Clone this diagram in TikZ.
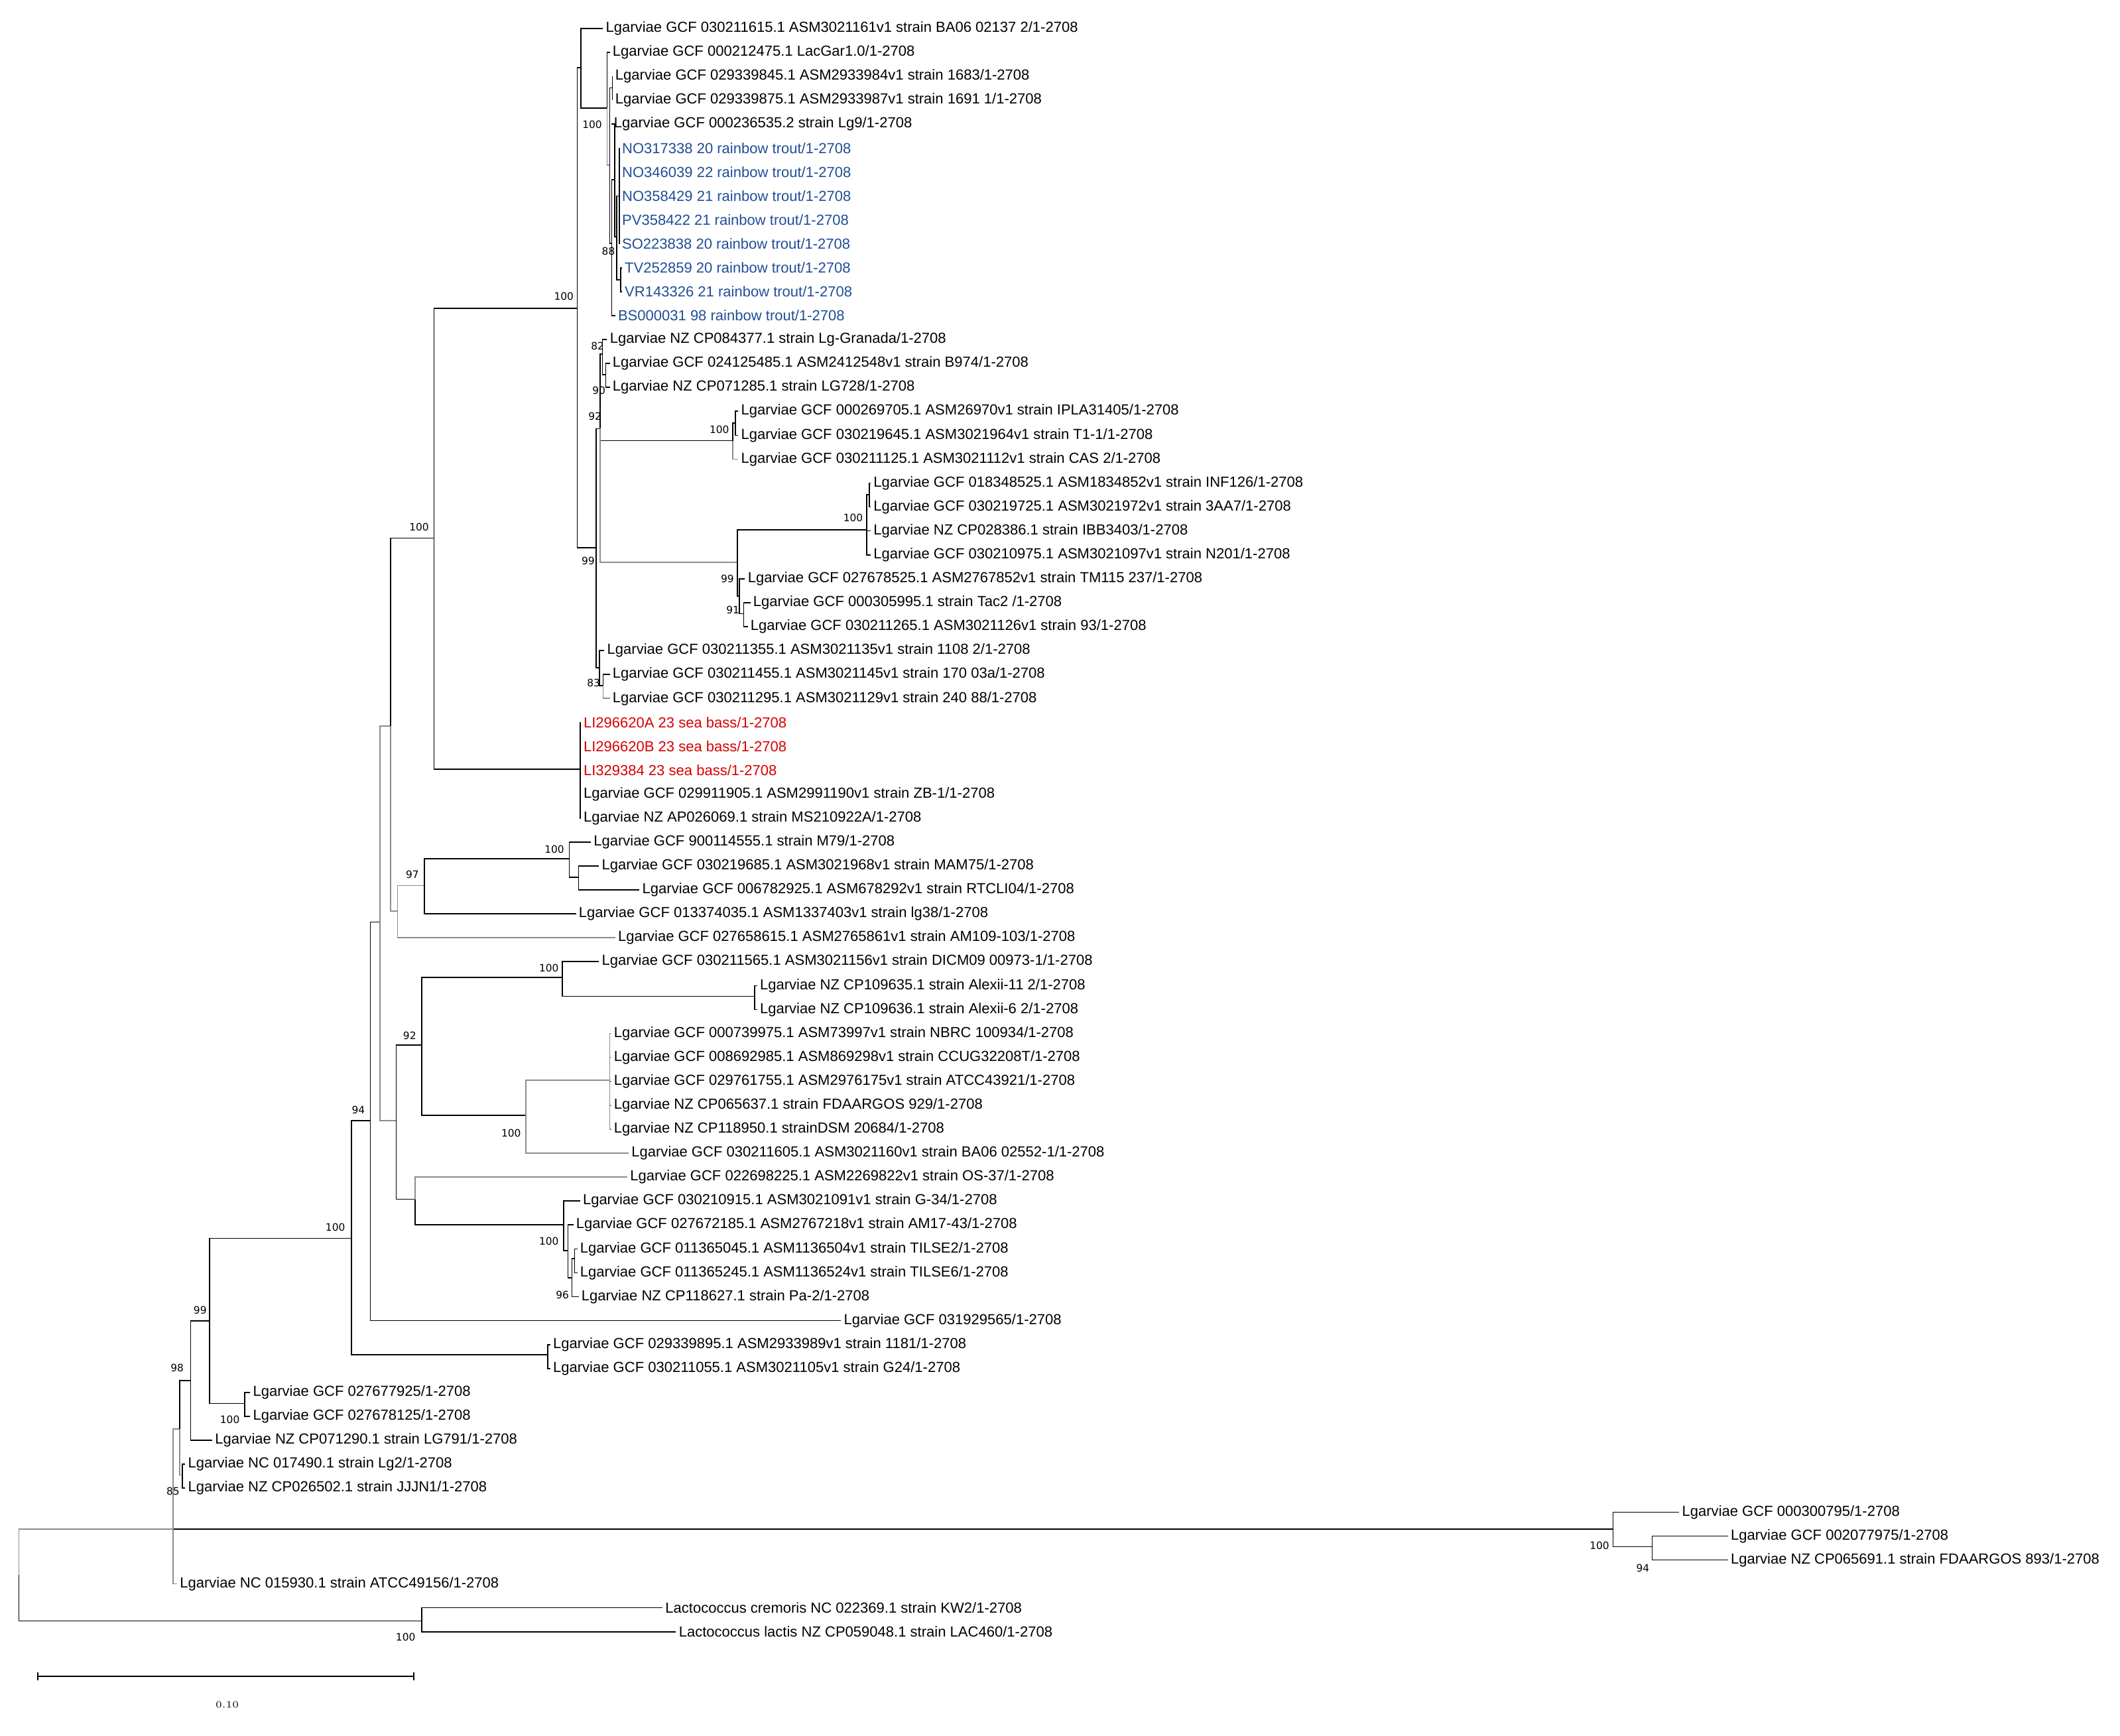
\documentclass[tikz,border=0pt]{standalone}
\usepackage{fontspec}
\setmainfont{Liberation Sans}
\newfontfamily\bsfont{DejaVu Sans}
\definecolor{trout}{RGB}{31,78,150}
\definecolor{bass}{RGB}{215,0,0}
\newcommand\Lf[5][black]{\node[leaf,text=#1] (#2) at (#3,{21+17.7*#4}) {#5};}
\newcommand\E[3][]{\draw[br,#1] (#2) |- (#3);}
\newcommand\EL[3][]{\draw[br,#1] (#2) |- (#3.west);}
\begin{document}
\begin{tikzpicture}[x=0.02cm,y=-0.02cm,
  leaf/.style={anchor=west,inner sep=1pt,font=\fontsize{6.15}{7}\selectfont},
  boot/.style={inner sep=0pt,font=\bsfont\fontsize{4.3}{5}\selectfont},
  br/.style={line width=0.45pt,draw=black},
  gr/.style={draw=black!45}]
\useasboundingbox (0,0) rectangle (1568,1284);
% ---------- leaves ----------
\Lf{l0}{446}{0}{Lgarviae GCF 030211615.1 ASM3021161v1 strain BA06 02137 2/1-2708}
\Lf{l1}{451}{1}{Lgarviae GCF 000212475.1 LacGar1.0/1-2708}
\Lf{l2}{453}{2}{Lgarviae GCF 029339845.1 ASM2933984v1 strain 1683/1-2708}
\Lf{l3}{453}{3}{Lgarviae GCF 029339875.1 ASM2933987v1 strain 1691 1/1-2708}
\Lf{l4}{452}{4}{Lgarviae GCF 000236535.2 strain Lg9/1-2708}
\Lf[trout]{l5}{458}{5}{NO317338 20 rainbow trout/1-2708}
\Lf[trout]{l6}{458}{6}{NO346039 22 rainbow trout/1-2708}
\Lf[trout]{l7}{458}{7}{NO358429 21 rainbow trout/1-2708}
\Lf[trout]{l8}{458}{8}{PV358422 21 rainbow trout/1-2708}
\Lf[trout]{l9}{458}{9}{SO223838 20 rainbow trout/1-2708}
\Lf[trout]{l10}{460}{10}{TV252859 20 rainbow trout/1-2708}
\Lf[trout]{l11}{460}{11}{VR143326 21 rainbow trout/1-2708}
\Lf[trout]{l12}{455}{12}{BS000031 98 rainbow trout/1-2708}
\Lf{l13}{449}{13}{Lgarviae NZ CP084377.1 strain Lg-Granada/1-2708}
\Lf{l14}{451}{14}{Lgarviae GCF 024125485.1 ASM2412548v1 strain B974/1-2708}
\Lf{l15}{451}{15}{Lgarviae NZ CP071285.1 strain LG728/1-2708}
\Lf{l16}{546}{16}{Lgarviae GCF 000269705.1 ASM26970v1 strain IPLA31405/1-2708}
\Lf{l17}{546}{17}{Lgarviae GCF 030219645.1 ASM3021964v1 strain T1-1/1-2708}
\Lf{l18}{546}{18}{Lgarviae GCF 030211125.1 ASM3021112v1 strain CAS 2/1-2708}
\Lf{l19}{644}{19}{Lgarviae GCF 018348525.1 ASM1834852v1 strain INF126/1-2708}
\Lf{l20}{644}{20}{Lgarviae GCF 030219725.1 ASM3021972v1 strain 3AA7/1-2708}
\Lf{l21}{644}{21}{Lgarviae NZ CP028386.1 strain IBB3403/1-2708}
\Lf{l22}{644}{22}{Lgarviae GCF 030210975.1 ASM3021097v1 strain N201/1-2708}
\Lf{l23}{551}{23}{Lgarviae GCF 027678525.1 ASM2767852v1 strain TM115 237/1-2708}
\Lf{l24}{555}{24}{Lgarviae GCF 000305995.1 strain Tac2 /1-2708}
\Lf{l25}{553}{25}{Lgarviae GCF 030211265.1 ASM3021126v1 strain 93/1-2708}
\Lf{l26}{447}{26}{Lgarviae GCF 030211355.1 ASM3021135v1 strain 1108 2/1-2708}
\Lf{l27}{451}{27}{Lgarviae GCF 030211455.1 ASM3021145v1 strain 170 03a/1-2708}
\Lf{l28}{451}{28}{Lgarviae GCF 030211295.1 ASM3021129v1 strain 240 88/1-2708}
\Lf[bass]{l29}{429.5}{29}{LI296620A 23 sea bass/1-2708}
\Lf[bass]{l30}{429.5}{30}{LI296620B 23 sea bass/1-2708}
\Lf[bass]{l31}{429.5}{31}{LI329384 23 sea bass/1-2708}
\Lf{l32}{429.5}{32}{Lgarviae GCF 029911905.1 ASM2991190v1 strain ZB-1/1-2708}
\Lf{l33}{429.5}{33}{Lgarviae NZ AP026069.1 strain MS210922A/1-2708}
\Lf{l34}{437}{34}{Lgarviae GCF 900114555.1 strain M79/1-2708}
\Lf{l35}{443}{35}{Lgarviae GCF 030219685.1 ASM3021968v1 strain MAM75/1-2708}
\Lf{l36}{473}{36}{Lgarviae GCF 006782925.1 ASM678292v1 strain RTCLI04/1-2708}
\Lf{l37}{426}{37}{Lgarviae GCF 013374035.1 ASM1337403v1 strain lg38/1-2708}
\Lf{l38}{455}{38}{Lgarviae GCF 027658615.1 ASM2765861v1 strain AM109-103/1-2708}
\Lf{l39}{443}{39}{Lgarviae GCF 030211565.1 ASM3021156v1 strain DICM09 00973-1/1-2708}
\Lf{l40}{560}{40}{Lgarviae NZ CP109635.1 strain Alexii-11 2/1-2708}
\Lf{l41}{560}{41}{Lgarviae NZ CP109636.1 strain Alexii-6 2/1-2708}
\Lf{l42}{452}{42}{Lgarviae GCF 000739975.1 ASM73997v1 strain NBRC 100934/1-2708}
\Lf{l43}{452}{43}{Lgarviae GCF 008692985.1 ASM869298v1 strain CCUG32208T/1-2708}
\Lf{l44}{452}{44}{Lgarviae GCF 029761755.1 ASM2976175v1 strain ATCC43921/1-2708}
\Lf{l45}{452}{45}{Lgarviae NZ CP065637.1 strain FDAARGOS 929/1-2708}
\Lf{l46}{452}{46}{Lgarviae NZ CP118950.1 strainDSM 20684/1-2708}
\Lf{l47}{465}{47}{Lgarviae GCF 030211605.1 ASM3021160v1 strain BA06 02552-1/1-2708}
\Lf{l48}{464}{48}{Lgarviae GCF 022698225.1 ASM2269822v1 strain OS-37/1-2708}
\Lf{l49}{429}{49}{Lgarviae GCF 030210915.1 ASM3021091v1 strain G-34/1-2708}
\Lf{l50}{424}{50}{Lgarviae GCF 027672185.1 ASM2767218v1 strain AM17-43/1-2708}
\Lf{l51}{427}{51}{Lgarviae GCF 011365045.1 ASM1136504v1 strain TILSE2/1-2708}
\Lf{l52}{427}{52}{Lgarviae GCF 011365245.1 ASM1136524v1 strain TILSE6/1-2708}
\Lf{l53}{428}{53}{Lgarviae NZ CP118627.1 strain Pa-2/1-2708}
\Lf{l54}{622}{54}{Lgarviae GCF 031929565/1-2708}
\Lf{l55}{407}{55}{Lgarviae GCF 029339895.1 ASM2933989v1 strain 1181/1-2708}
\Lf{l56}{407}{56}{Lgarviae GCF 030211055.1 ASM3021105v1 strain G24/1-2708}
\Lf{l57}{185}{57}{Lgarviae GCF 027677925/1-2708}
\Lf{l58}{185}{58}{Lgarviae GCF 027678125/1-2708}
\Lf{l59}{157}{59}{Lgarviae NZ CP071290.1 strain LG791/1-2708}
\Lf{l60}{137}{60}{Lgarviae NC 017490.1 strain Lg2/1-2708}
\Lf{l61}{137}{61}{Lgarviae NZ CP026502.1 strain JJJN1/1-2708}
\Lf{l62}{1242}{62}{Lgarviae GCF 000300795/1-2708}
\Lf{l63}{1278}{63}{Lgarviae GCF 002077975/1-2708}
\Lf{l64}{1278}{64}{Lgarviae NZ CP065691.1 strain FDAARGOS 893/1-2708}
\Lf{l65}{131}{65}{Lgarviae NC 015930.1 strain ATCC49156/1-2708}
\Lf{l66}{490}{66}{Lactococcus cremoris NC 022369.1 strain KW2/1-2708}
\Lf{l67}{500}{67}{Lactococcus lactis NZ CP059048.1 strain LAC460/1-2708}
% ---------- internal nodes ----------
\coordinate (root) at (14,1165);
\coordinate (lac) at (312,1199);
\coordinate (N1) at (128,1131);
\coordinate (B) at (1193,1131);
\coordinate (C) at (1222,1144);
\coordinate (N2) at (133,1057);
\coordinate (lg) at (135,1091);
\coordinate (n98) at (141,1021);
\coordinate (n99) at (155,977);
\coordinate (n100b) at (181,1038);
\coordinate (n100a) at (260,916);
\coordinate (n1181) at (405,1002);
\coordinate (n94) at (274,829);
\coordinate (Q) at (281,682);
\coordinate (S) at (289,537);
\coordinate (R) at (294,674);
\coordinate (n97) at (314,655);
\coordinate (n100f) at (421,635);
\coordinate (s35) at (428,649);
\coordinate (ntop) at (321,398);
\coordinate (sea) at (429,569);
\coordinate (U) at (427,228);
\coordinate (T) at (429.5,50);
\coordinate (n100e) at (449,80);
\coordinate (V) at (451,122);
\coordinate (s23) at (453,65);
\coordinate (X) at (452.5,180);
\coordinate (Y) at (454.5,133);
\coordinate (Z) at (456,175);
\coordinate (n5) at (458,145);
\coordinate (n10) at (459,207);
\coordinate (n99b) at (441,405);
\coordinate (n83p) at (443.5,494);
\coordinate (n83) at (446,507);
\coordinate (n92) at (444,317);
\coordinate (n82) at (445.5,262);
\coordinate (n90) at (448,277);
\coordinate (n100c) at (542,326);
\coordinate (s16) at (544,313);
\coordinate (n99c) at (545.5,416);
\coordinate (n99d) at (547,441);
\coordinate (n91) at (550,454);
\coordinate (n100d) at (641,392);
\coordinate (s19) at (643,366);
\coordinate (n92b) at (293,829);
\coordinate (n100g) at (312,773);
\coordinate (n100h) at (416,723);
\coordinate (alex) at (558,737);
\coordinate (n100i) at (389,825);
\coordinate (p42) at (451,799);
\coordinate (nOS) at (307,887);
\coordinate (n100j) at (417,906);
\coordinate (sA) at (420,925);
\coordinate (sB) at (423,945);
\coordinate (sC) at (425,931);
% ---------- branches ----------
\draw[br,gr] (root) |- (N1);
\E{root}{lac}
\EL{lac}{l66} \EL{lac}{l67}
\draw[br] (N1) -- (B);
\EL{B}{l62} \E{B}{C} \EL{C}{l63} \EL{C}{l64}
\EL[gr]{N1}{l65}
\E[gr]{N1}{N2}
\E[gr]{N2}{lg} \EL{lg}{l60} \EL{lg}{l61}
\E{N2}{n98}
\E{n98}{n99} \EL{n98}{l59}
\E{n99}{n100b} \EL{n100b}{l57} \EL{n100b}{l58}
\E{n99}{n100a}
\E{n100a}{n1181} \EL{n1181}{l55} \EL{n1181}{l56}
\E{n100a}{n94}
\EL{n94}{l54}
\E{n94}{Q}
\E[gr]{Q}{S} \E[gr]{Q}{n92b}
\E{S}{ntop} \E[gr]{S}{R}
\E[gr]{R}{n97} \EL[gr]{R}{l38}
\E{n97}{n100f} \EL{n97}{l37}
\EL{n100f}{l34} \E{n100f}{s35} \EL{s35}{l35} \EL{s35}{l36}
\E{ntop}{sea}
\foreach \i in {29,...,33}{\EL{sea}{l\i}}
\E{ntop}{U}
\E{U}{T} \EL{T}{l0} \E{T}{n100e}
\EL{n100e}{l1} \E[gr]{n100e}{V}
\E{V}{s23} \EL{s23}{l2} \EL{s23}{l3}
\E{V}{X}
\E{X}{Y} \EL{X}{l12}
\EL{Y}{l4} \E{Y}{Z}
\E{Z}{n5} \E{Z}{n10}
\foreach \i in {5,...,9}{\EL{n5}{l\i}}
\EL{n10}{l10} \EL{n10}{l11}
\E{U}{n99b}
\E{n99b}{n83p} \EL{n83p}{l26} \E{n83p}{n83} \EL{n83}{l27} \EL[gr]{n83}{l28}
\E{n99b}{n92}
\E{n92}{n82} \EL{n82}{l13} \E{n82}{n90} \EL{n90}{l14} \EL{n90}{l15}
\E{n92}{n100c} \E{n100c}{s16} \EL{s16}{l16} \EL{s16}{l17} \EL[gr]{n100c}{l18}
\E[gr]{n92}{n99c}
\E{n99c}{n100d} \E{n100d}{s19} \EL{s19}{l19} \EL{s19}{l20} \EL{n100d}{l21} \EL{n100d}{l22}
\E{n99c}{n99d} \EL{n99d}{l23} \E{n99d}{n91} \EL{n91}{l24} \EL{n91}{l25}
\E{n92b}{n100g} \E{n92b}{nOS}
\E{n100g}{n100h} \EL{n100h}{l39} \E{n100h}{alex} \EL{alex}{l40} \EL{alex}{l41}
\E{n100g}{n100i} \E[gr]{n100i}{p42} \EL[gr]{n100i}{l47}
\foreach \i in {42,...,46}{\EL[gr]{p42}{l\i}}
\EL[gr]{nOS}{l48} \E{nOS}{n100j}
\EL{n100j}{l49} \E{n100j}{sA}
\EL{sA}{l50} \E{sA}{sB}
\E{sB}{sC} \EL{sC}{l51} \EL{sC}{l52} \EL{sB}{l53}
% ---------- bootstrap values ----------
\node[boot] (bs1) at (438,92) {100};
\node[boot] (bs2) at (450,186) {88};
\node[boot] (bs3) at (417,219) {100};
\node[boot] (bs4) at (442,256) {82};
\node[boot] (bs5) at (443,289) {90};
\node[boot] (bs6) at (440,308) {92};
\node[boot] (bs7) at (532,318) {100};
\node[boot] (bs8) at (631,383) {100};
\node[boot] (bs9) at (538,428) {99};
\node[boot] (bs10) at (542,451) {91};
\node[boot] (bs11) at (435,415) {99};
\node[boot] (bs12) at (439,505) {83};
\node[boot] (bs13) at (310,390) {100};
\node[boot] (bs14) at (410,628) {100};
\node[boot] (bs15) at (305,647) {97};
\node[boot] (bs16) at (406,716) {100};
\node[boot] (bs17) at (303,766) {92};
\node[boot] (bs18) at (378,838) {100};
\node[boot] (bs19) at (406,918) {100};
\node[boot] (bs20) at (416,958) {96};
\node[boot] (bs21) at (265,821) {94};
\node[boot] (bs22) at (248,908) {100};
\node[boot] (bs23) at (148,969) {99};
\node[boot] (bs24) at (131,1012) {98};
\node[boot] (bs25) at (170,1050) {100};
\node[boot] (bs26) at (128,1103) {85};
\node[boot] (bs27) at (1183,1143) {100};
\node[boot] (bs28) at (1215,1160) {94};
\node[boot] (bs29) at (300,1211) {100};
% ---------- scale bar ----------
\coordinate (sb1) at (28,1240);
\coordinate (sb2) at (306,1240);
\draw[br] (sb1) -- (sb2);
\draw[br] ([yshift=-0.06cm]sb1) -- ([yshift=0.06cm]sb1);
\draw[br] ([yshift=-0.06cm]sb2) -- ([yshift=0.06cm]sb2);
\node[inner sep=0pt,font=\fontfamily{lmr}\fontsize{4}{5}\selectfont] (sbl) at (168,1261) {0.10};
\end{tikzpicture}
\end{document}
